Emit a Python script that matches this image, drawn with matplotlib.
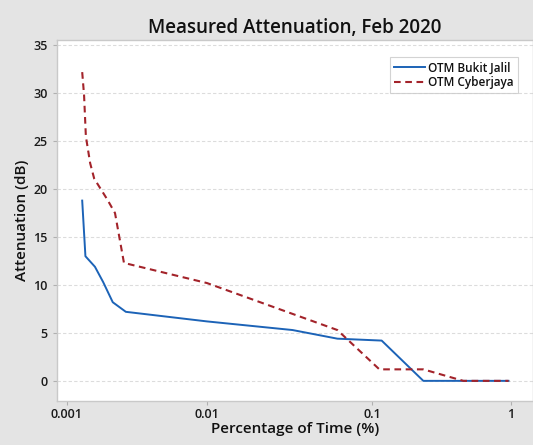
import numpy as np
import matplotlib
matplotlib.use("Agg")
import matplotlib.pyplot as plt
from matplotlib.ticker import FixedLocator, FixedFormatter, NullLocator

plt.rcParams['font.family'] = ['Open Sans', 'DejaVu Sans']

# Exceedance curves: percentage of time vs attenuation (dB)
bj_time = [0.00129, 0.00136, 0.00159, 0.00182, 0.00213, 0.00264, 0.01, 0.033, 0.0617, 0.1174, 0.234, 0.96]
bj_att = [18.8, 13.0, 11.9, 10.3, 8.2, 7.2, 6.2, 5.3, 4.4, 4.2, 0.0, 0.0]

cj_time = [0.00129, 0.00133, 0.00137, 0.00147, 0.00157, 0.00195, 0.00221, 0.00256,
           0.01, 0.0617, 0.113, 0.234, 0.454, 0.96]
cj_att = [32.2, 29.8, 25.5, 22.7, 21.1, 18.9, 17.5, 12.3, 10.2, 5.3, 1.2, 1.2, 0.0, 0.0]

series_names = ["OTM Bukit Jalil", "OTM Cyberjaya"]
x_ticks = [0.001, 0.01, 0.1, 1]
x_tick_labels = ["0.001", "0.01", "0.1", "1"]
y_ticks = [0, 5, 10, 15, 20, 25, 30, 35]

# Piecewise log axis: each decade has its own width on the page
LOG_KNOTS = np.array([-10.0, -3.0, -2.0, -1.0, 0.0, 10.0])
DECADE_W = [140.3, 165.0, 139.0]
_pos = [0.0, DECADE_W[0], DECADE_W[0] + DECADE_W[1], sum(DECADE_W)]
POS_KNOTS = np.array([_pos[0] - 7 * DECADE_W[0]] + _pos + [_pos[-1] + 10 * DECADE_W[2]])


def fwd(x):
    x = np.asarray(x, dtype=float)
    with np.errstate(divide="ignore", invalid="ignore"):
        lg = np.log10(np.where(x > 0, x, np.nan))
    return np.interp(lg, LOG_KNOTS, POS_KNOTS)


def inv(p):
    p = np.asarray(p, dtype=float)
    return 10.0 ** np.interp(p, POS_KNOTS, LOG_KNOTS)


BG = "#e4e4e4"
fig = plt.figure(figsize=(5.33, 4.45), dpi=100, facecolor=BG)
ax = fig.add_axes([0.1064, 0.0989, 0.8936, 0.8112])
ax.set_facecolor("white")
ax.set_xscale("function", functions=(fwd, inv))

ax.plot(bj_time, bj_att, color="#1c63b7", lw=1.4, label=series_names[0], zorder=3)
ax.plot(cj_time, cj_att, color="#a3232a", lw=1.5, ls=(0, (3.2, 2.2)), label=series_names[1], zorder=3)

ax.set_xlim(8.49e-4, 1.44)
ax.set_ylim(-2.1, 35.55)

ax.xaxis.set_major_locator(FixedLocator(x_ticks))
ax.xaxis.set_major_formatter(FixedFormatter(x_tick_labels))
ax.xaxis.set_minor_locator(NullLocator())
ax.set_yticks(y_ticks)

ax.grid(axis="y", color="#dcdcdc", lw=0.8, ls=(0, (3, 2)))
ax.set_axisbelow(True)

for s in ax.spines.values():
    s.set_color("#c9c9c9")
    s.set_linewidth(1.0)

ax.tick_params(axis="both", colors="#b0b0b0", labelcolor="#1a1a1a", labelsize=9, length=3, width=0.8)
ax.tick_params(axis="x", pad=2)

for lab in ax.get_xticklabels() + ax.get_yticklabels():
    lab.set_fontweight("semibold")

ax.set_title("Measured Attenuation, Feb 2020", fontsize=13.5, fontweight="semibold", color="#111111", pad=5)
ax.set_xlabel("Percentage of Time (%)", fontsize=11, fontweight="semibold", color="#111111", labelpad=1)
ax.set_ylabel("Attenuation (dB)", fontsize=11, fontweight="semibold", color="#111111", labelpad=3)

leg = ax.legend(loc="upper right", bbox_to_anchor=(0.981, 0.968), fontsize=8.5, frameon=True,
                fancybox=False, edgecolor="#c8c8c8", handlelength=2.6, handletextpad=0.3,
                borderpad=0.35, labelspacing=0.1)
leg.get_frame().set_linewidth(0.8)
for t in leg.get_texts():
    t.set_fontweight("semibold")
    t.set_color("#111111")

fig.savefig("out.png", dpi=100, facecolor=BG)
